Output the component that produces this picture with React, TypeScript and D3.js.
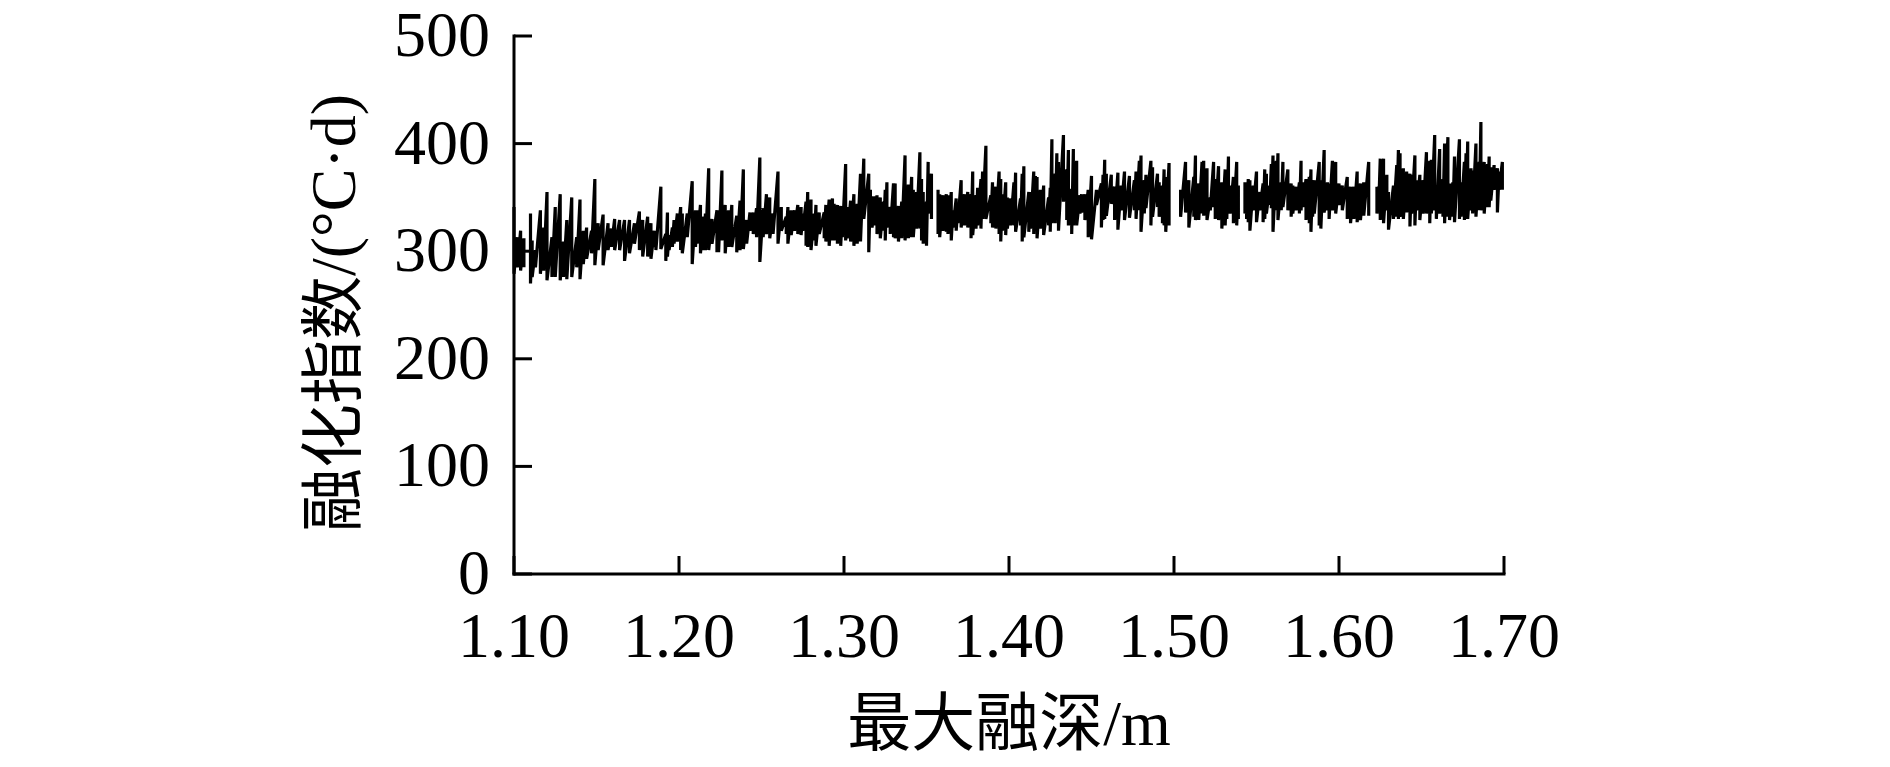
import React from "react";
import * as d3 from "d3";

// Max thaw depth (m) for each sampled spike
const depth = [
  1.100, 1.102, 1.104, 1.106, 1.110, 1.111, 1.113, 1.116, 1.118, 1.120, 1.123, 1.125, 1.128, 1.130, 1.132, 1.135, 1.138, 1.140,
  1.142, 1.144, 1.147, 1.149, 1.151, 1.154, 1.157, 1.159, 1.161, 1.164, 1.167, 1.170, 1.173, 1.176, 1.178, 1.181, 1.183, 1.185,
  1.186, 1.189, 1.192, 1.193, 1.194, 1.196, 1.197, 1.199, 1.201, 1.202, 1.205, 1.208, 1.210, 1.211, 1.213, 1.215, 1.216, 1.218,
  1.220, 1.223, 1.224, 1.226, 1.228, 1.230, 1.232, 1.235, 1.237, 1.239, 1.241, 1.243, 1.245, 1.247, 1.249, 1.251, 1.253, 1.255,
  1.257, 1.260, 1.262, 1.265, 1.266, 1.268, 1.270, 1.272,
  1.274, 1.275, 1.277, 1.278, 1.280, 1.282, 1.283, 1.285, 1.288, 1.289, 1.291, 1.293, 1.294, 1.296, 1.298, 1.299, 1.301, 1.302,
  1.304, 1.306, 1.308, 1.310, 1.312, 1.315, 1.316, 1.317, 1.319, 1.320, 1.322, 1.324, 1.325, 1.326, 1.328, 1.330, 1.331, 1.333,
  1.335, 1.337, 1.339, 1.341, 1.342, 1.344, 1.346, 1.347, 1.348, 1.350, 1.351, 1.353, 1.357, 1.358, 1.360,
  1.362, 1.363, 1.365, 1.366, 1.368, 1.369, 1.371, 1.373, 1.375, 1.377, 1.378, 1.380, 1.381, 1.383, 1.384, 1.386, 1.389, 1.390,
  1.392, 1.394, 1.395, 1.396, 1.398, 1.399, 1.401, 1.403, 1.404, 1.407, 1.408, 1.409, 1.412, 1.413, 1.415, 1.416, 1.417, 1.419,
  1.421, 1.424, 1.425, 1.426, 1.428, 1.429, 1.430, 1.433, 1.435, 1.436, 1.438, 1.439, 1.441, 1.443, 1.444, 1.446, 1.448,
  1.450, 1.453, 1.456, 1.457, 1.458, 1.459, 1.462, 1.464, 1.466, 1.468, 1.470, 1.473, 1.476, 1.477, 1.479, 1.480, 1.482, 1.483,
  1.486, 1.487, 1.490, 1.491, 1.493, 1.494, 1.495, 1.497, 1.504, 1.507, 1.509, 1.512, 1.513, 1.515, 1.517, 1.518, 1.520, 1.522,
  1.524, 1.525, 1.527, 1.529, 1.531, 1.532, 1.533, 1.534, 1.536,
  1.538, 1.539, 1.543, 1.544, 1.545, 1.546, 1.548, 1.550, 1.552, 1.554, 1.555, 1.556, 1.558, 1.559, 1.560, 1.562, 1.563, 1.565,
  1.566, 1.569, 1.571, 1.572, 1.574, 1.576, 1.577, 1.578, 1.580, 1.582, 1.583, 1.584, 1.585, 1.588, 1.589, 1.591, 1.593, 1.594,
  1.596, 1.598, 1.600, 1.602, 1.605, 1.607, 1.609, 1.611, 1.613, 1.615, 1.618, 1.623, 1.624,
  1.625, 1.627, 1.629, 1.630, 1.633, 1.635, 1.636, 1.637, 1.639, 1.641, 1.643, 1.644, 1.646, 1.647, 1.649, 1.651, 1.653, 1.655,
  1.656, 1.658, 1.659, 1.661, 1.663, 1.664, 1.666, 1.667, 1.669, 1.670, 1.673, 1.674, 1.676, 1.677, 1.678, 1.680, 1.681, 1.683,
  1.685, 1.686, 1.688, 1.690, 1.691, 1.692, 1.694, 1.696, 1.697, 1.699,
];

// Thawing index (°C·d): top of each spike
const indexHigh = [
  341, 313, 319, 312, 335, 310, 301, 338, 322, 355, 313, 341, 353, 309, 329, 350, 313, 348,
  319, 322, 319, 367, 326, 334, 326, 321, 330, 329, 329, 329, 326, 337, 329, 332, 326, 319,
  313, 360, 316, 336, 315, 322, 329, 335, 341, 335, 335, 365, 338, 338, 343, 332, 335, 377,
  330, 338, 338, 375, 343, 338, 343, 333, 347, 376, 329, 336, 336, 340, 387, 340, 353, 350,
  335, 374, 341, 332, 341, 338, 338, 343,
  341, 335, 346, 355, 348, 335, 343, 336, 336, 343, 348, 349, 344, 343, 342, 338, 381, 341,
  347, 353, 344, 372, 386, 372, 357, 351, 351, 352, 350, 346, 357, 364, 341, 363, 363, 342,
  346, 389, 362, 369, 357, 355, 392, 367, 355, 346, 383, 372, 357, 353, 352,
  353, 352, 355, 338, 349, 341, 366, 353, 355, 353, 374, 352, 359, 367, 374, 398, 352, 364,
  360, 374, 367, 353, 364, 350, 349, 364, 373, 349, 372, 379, 355, 355, 374, 370, 369, 357,
  361, 350, 359, 404, 372, 391, 383, 408, 376, 394, 358, 395, 384, 352, 353, 353, 357,
  370, 357, 363, 371, 385, 372, 371, 360, 373, 361, 374, 370, 366, 374, 384, 389, 366, 371,
  384, 378, 372, 364, 361, 376, 369, 382, 357, 383, 366, 369, 389, 363, 383, 384, 377, 350,
  383, 367, 379, 364, 376, 364, 388, 361, 369,
  383, 361, 364, 360, 367, 366, 361, 374, 355, 363, 376, 372, 361, 381, 389, 384, 391, 364,
  383, 376, 363, 361, 360, 364, 384, 364, 367, 369, 376, 366, 366, 383, 366, 394, 364, 363,
  384, 383, 363, 361, 369, 360, 360, 374, 363, 364, 383, 360, 360,
  386, 386, 371, 355, 361, 380, 394, 391, 377, 374, 372, 371, 389, 366, 371, 366, 392, 384,
  385, 408, 360, 395, 367, 400, 406, 363, 364, 388, 404, 364, 383, 391, 402, 377, 375, 400,
  383, 420, 383, 381, 388, 378, 380, 377, 374, 383,
];

// Thawing index (°C·d): bottom of each spike
const indexLow = [
  279, 285, 282, 285, 270, 276, 285, 279, 282, 273, 276, 276, 273, 276, 274, 276, 285, 274,
  288, 293, 298, 287, 301, 287, 301, 304, 301, 301, 291, 298, 307, 301, 295, 295, 293, 304,
  301, 302, 291, 295, 301, 304, 307, 309, 301, 298, 313, 288, 304, 307, 298, 301, 301, 301,
  307, 299, 299, 310, 298, 304, 304, 299, 301, 302, 307, 319, 316, 313, 290, 313, 316, 312,
  316, 307, 319, 316, 307, 315, 319, 316,
  315, 319, 305, 304, 301, 310, 305, 316, 312, 309, 305, 310, 310, 307, 305, 313, 310, 312,
  309, 305, 307, 309, 330, 299, 326, 322, 324, 316, 312, 319, 310, 322, 316, 313, 312, 309,
  312, 310, 312, 313, 313, 321, 321, 310, 307, 305, 335, 330, 316, 313, 319,
  318, 316, 310, 322, 319, 326, 322, 324, 322, 312, 315, 321, 324, 321, 330, 330, 326, 322,
  321, 316, 309, 319, 315, 321, 324, 324, 318, 324, 309, 313, 318, 321, 316, 321, 312, 321,
  315, 324, 318, 326, 326, 338, 319, 346, 329, 324, 316, 324, 324, 335, 336, 329, 313,
  311, 343, 322, 329, 330, 333, 344, 329, 320, 338, 329, 331, 338, 330, 338, 318, 335, 340,
  324, 332, 341, 332, 326, 324, 318, 324, 332, 336, 322, 332, 329, 329, 335, 333, 329, 338,
  341, 330, 329, 321, 324, 330, 336, 335, 326,
  324, 330, 335, 330, 327, 319, 338, 327, 338, 327, 330, 335, 343, 340, 318, 338, 329, 338,
  341, 338, 332, 335, 338, 335, 338, 341, 329, 326, 318, 332, 335, 324, 321, 336, 338, 330,
  338, 335, 343, 338, 330, 326, 330, 327, 329, 333, 333, 335, 338,
  329, 326, 338, 320, 330, 332, 330, 332, 330, 336, 323, 335, 324, 338, 329, 335, 335, 326,
  335, 338, 330, 335, 332, 326, 332, 329, 332, 327, 330, 332, 329, 330, 330, 338, 335, 332,
  338, 338, 335, 341, 341, 347, 357, 336, 357, 357,
];

const xTicks = [1.1, 1.2, 1.3, 1.4, 1.5, 1.6, 1.7];
const yTicks = [0, 100, 200, 300, 400, 500];
const xTitle = "最大融深/m";
const yTitle = "融化指数/(°C·d)";

const FONT = "'Liberation Serif', 'Times New Roman', 'Noto Sans CJK SC', serif";

export default function App() {
  const W = 1890;
  const H = 767;
  const x = d3.scaleLinear().domain([1.1, 1.7]).range([514, 1504]);
  const y = d3.scaleLinear().domain([0, 500]).range([574, 36]);

  const segments: [number, number][][] = [];
  let cur: [number, number][] = [];
  depth.forEach((d, i) => {
    if (i > 0 && d - depth[i - 1] > 0.0035) {
      segments.push(cur);
      cur = [];
    }
    cur.push([d, indexHigh[i]]);
    cur.push([d, indexLow[i]]);
  });
  segments.push(cur);

  const line = d3
    .line<[number, number]>()
    .x((p) => x(p[0]))
    .y((p) => y(p[1]));

  const x0 = x(1.1);
  const x1 = x(1.7);
  const y0 = y(0);
  const y1 = y(500);
  const tickLen = 18;

  return (
    <svg
      width={W}
      height={H}
      viewBox={`0 0 ${W} ${H}`}
      style={{ position: "absolute", left: 0, top: 0, background: "#fff" }}
    >
      <rect x={0} y={0} width={W} height={H} fill="#fff" />
      {segments.map((s, i) => (
        <path
          key={i}
          d={line(s) || ""}
          fill="none"
          stroke="#000"
          strokeWidth={3.2}
          strokeLinejoin="bevel"
        />
      ))}
      {/* axes */}
      <line x1={x0} y1={y0} x2={x0} y2={y1} stroke="#000" strokeWidth={3} strokeLinecap="square" />
      <line x1={x0} y1={y0} x2={x1} y2={y0} stroke="#000" strokeWidth={3} strokeLinecap="square" />
      {yTicks.map((t) => (
        <g key={"y" + t}>
          <line x1={x0} x2={x0 + tickLen} y1={y(t)} y2={y(t)} stroke="#000" strokeWidth={3} />
          <text
            x={490}
            y={y(t) + 20}
            textAnchor="end"
            fontFamily={FONT}
            fontSize={64}
            fill="#000"
          >
            {t}
          </text>
        </g>
      ))}
      {xTicks.map((t) => (
        <g key={"x" + t}>
          <line x1={x(t)} x2={x(t)} y1={y0} y2={y0 - tickLen} stroke="#000" strokeWidth={3} />
          <text
            x={x(t)}
            y={657}
            textAnchor="middle"
            fontFamily={FONT}
            fontSize={64}
            fill="#000"
          >
            {t.toFixed(2)}
          </text>
        </g>
      ))}
      <text
        x={(x0 + x1) / 2}
        y={745}
        textAnchor="middle"
        fontFamily={FONT}
        fontSize={64}
        fill="#000"
      >
        {xTitle}
      </text>
      <text
        transform={`translate(355, 313) rotate(-90)`}
        textAnchor="middle"
        fontFamily={FONT}
        fontSize={64}
        fill="#000"
      >
        {yTitle}
      </text>
    </svg>
  );
}
